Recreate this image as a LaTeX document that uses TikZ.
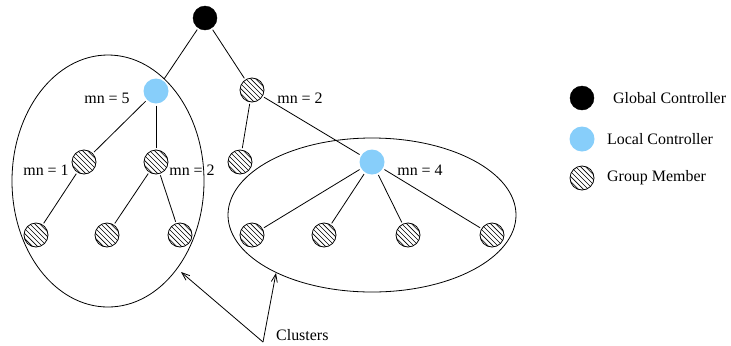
\documentclass[tikz,border=0pt]{standalone}
\usepackage{fontspec}
\setmainfont{Liberation Serif}
\usetikzlibrary{arrows.meta}
\definecolor{lcblue}{RGB}{135,206,250}
\tikzset{
  every node/.style={font=\fontsize{16}{18}\selectfont},
  gc/.style={circle, fill=black, draw=black, minimum size=24bp, inner sep=0pt, outer sep=2bp},
  lc/.style={circle, fill=lcblue, minimum size=25bp, inner sep=0pt, outer sep=2bp},
  gm/.style={circle, draw=black, line width=0.8bp, minimum size=24bp, inner sep=0pt, outer sep=2bp,
    path picture={\foreach \k in {-4,...,4}{
      \draw[line width=0.6bp] ([shift={(\k*2.47bp-14bp,\k*2.47bp+14bp)}]path picture bounding box.center) -- ++(28bp,-28bp);}}},
  edge/.style={line width=0.8bp},
  lbl/.style={inner sep=0pt},
  arr/.style={line width=0.8bp, -{Straight Barb[length=8bp,width=6bp]}}
}
\begin{document}
\begin{tikzpicture}[x=1bp,y=-1bp]
\useasboundingbox (0,0) rectangle (731,345);
% clusters
\draw[line width=0.8bp] (108,181) ellipse [x radius=96, y radius=126];
\draw[line width=0.8bp] (372,215) ellipse [x radius=144, y radius=77];
% nodes
\node[gc] (g) at (205,18) {};
\node[lc] (l1) at (156,91) {};
\node[gm] (a) at (252,90) {};
\node[gm] (b1) at (84,162) {};
\node[gm] (b2) at (156,162) {};
\node[gm] (b3) at (240,162) {};
\node[lc] (l2) at (372,162) {};
\node[gm] (c1) at (36,235) {};
\node[gm] (c2) at (107,235) {};
\node[gm] (c3) at (180,235) {};
\node[gm] (d1) at (252,235) {};
\node[gm] (d2) at (324,235) {};
\node[gm] (d3) at (408,235) {};
\node[gm] (d4) at (492,235) {};
% edges
\draw[edge] (g) -- (l1);
\draw[edge] (g) -- (a);
\draw[edge] (l1) -- (b1);
\draw[edge] (l1) -- (b2);
\draw[edge] (b1) -- (c1);
\draw[edge] (b2) -- (c2);
\draw[edge] (b2) -- (c3);
\draw[edge] (a) -- (b3);
\draw[edge] (a) -- (l2);
\draw[edge] (l2) -- (d1);
\draw[edge] (l2) -- (d2);
\draw[edge] (l2) -- (d3);
\draw[edge] (l2) -- (d4);
% labels
\node[lbl] (m5) at (107,98) {mn = 5};
\node[lbl] (m2a) at (300,98) {mn = 2};
\node[lbl] (m1) at (46,170) {mn = 1};
\node[lbl] (m2b) at (192,170) {mn = 2};
\node[lbl] (m4) at (420,170) {mn = 4};
% clusters arrows
\node[lbl, anchor=west] (cl) at (276,335) {Clusters};
\coordinate (apex) at (263,342);
\coordinate (t1) at (181,272);
\coordinate (t2) at (276,273);
\draw[arr] (apex) -- (t1);
\draw[arr] (apex) -- (t2);
% legend
\node[gc, outer sep=0pt] (kg) at (582,98) {};
\node[lc, outer sep=0pt] (kl) at (582,139) {};
\node[gm, outer sep=0pt] (km) at (582,178) {};
\node[lbl, anchor=west] (tg) at (613,98) {Global Controller};
\node[lbl, anchor=west] (tl) at (607,139) {Local Controller};
\node[lbl, anchor=west] (tm) at (607,178) {Group Member};
\end{tikzpicture}
\end{document}
